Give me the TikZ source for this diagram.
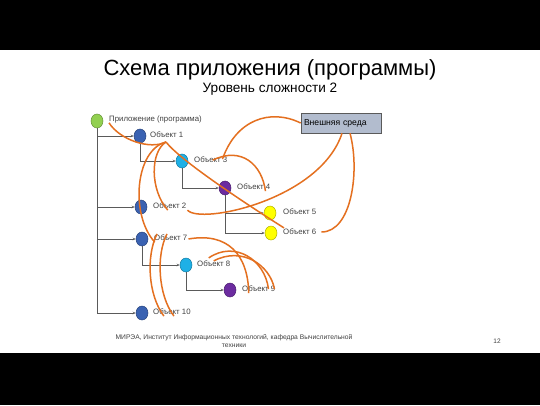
\documentclass[tikz,border=0pt]{standalone}
\usepackage{fontspec}
\setmainfont{Liberation Sans}
\usepackage{tikz}
\usetikzlibrary{shapes.geometric,arrows.meta}

\definecolor{curveor}{RGB}{228,112,32}
\definecolor{treegray}{RGB}{90,90,90}
\definecolor{labgray}{RGB}{64,64,64}
\definecolor{envfill}{RGB}{178,188,206}
\definecolor{objblue}{RGB}{58,98,178}
\definecolor{objcyan}{RGB}{30,176,230}
\definecolor{objpurple}{RGB}{108,44,160}
\definecolor{objyellow}{RGB}{255,255,0}
\definecolor{objgreen}{RGB}{146,208,80}

\begin{document}
\begin{tikzpicture}[x=1pt,y=-1pt,
  obj/.style={ellipse,draw=#1!70!black,fill=#1,line width=0.5pt,minimum width=12pt,minimum height=14pt,inner sep=0pt},
  lab/.style={anchor=west,inner sep=1pt,text=labgray,font=\fontsize{7.8}{9}\selectfont},
  tree/.style={draw=treegray,line width=0.6pt,-{Stealth[length=3pt,width=2.5pt]}},
  link/.style={draw=curveor,line width=1.5pt}]

% slide frame
\fill[black] (0,0) rectangle (540,405);
\fill[white] (0,50) rectangle (540,353);
\useasboundingbox (0,0) rectangle (540,405);

\node (title) at (270,70) {\fontsize{22}{25}\selectfont Схема приложения (программы)};
\node (subtitle) at (270,89) {\fontsize{13.6}{15}\selectfont Уровень сложности 2};

% objects
\node[obj=objgreen]  (app)  at (97,121) {};
\node[obj=objblue]   (ob1)  at (140,136) {};
\node[obj=objcyan]   (ob3)  at (182,161) {};
\node[obj=objpurple] (ob4)  at (225,188) {};
\node[obj=objyellow] (ob5)  at (270,213) {};
\node[obj=objyellow] (ob6)  at (271,233) {};
\node[obj=objblue]   (ob2)  at (141,207) {};
\node[obj=objblue]   (ob7)  at (142,239) {};
\node[obj=objcyan]   (ob8)  at (186,265) {};
\node[obj=objpurple] (ob9)  at (230,290) {};
\node[obj=objblue]   (ob10) at (142,313) {};

\node[lab] (lapp) at (108,119) {Приложение (программа)};
\node[lab] (l1)  at (149,135) {Объект 1};
\node[lab] (l3)  at (193,160) {Объект 3};
\node[lab] (l4)  at (236,187) {Объект 4};
\node[lab] (l5)  at (282,212) {Объект 5};
\node[lab] (l6)  at (282,232) {Объект 6};
\node[lab] (l2)  at (152,206) {Объект 2};
\node[lab] (l7)  at (153,238) {Объект 7};
\node[lab] (l8)  at (196,264) {Объект 8};
\node[lab] (l9)  at (241,289) {Объект 9};
\node[lab] (l10) at (152,312) {Объект 10};

\node[draw=treegray,fill=envfill,line width=0.7pt,minimum width=80pt,minimum height=20pt,
  text width=74pt,align=left,inner sep=3pt,font=\fontsize{8.6}{10}\selectfont] (env) at (341,123) {Внешняя среда};

% hierarchy
\draw[tree] (app.south) |- (ob10.west);
\draw[tree] (app.south |- ob1.west) -- (ob1.west);
\draw[tree] (app.south |- ob2.west) -- (ob2.west);
\draw[tree] (app.south |- ob7.west) -- (ob7.west);
\draw[tree] (ob1.south) |- (ob3.west);
\draw[tree] (ob3.south) |- (ob4.west);
\draw[tree] (ob4.south) |- (ob5.west);
\draw[tree] (ob4.south) |- (ob6.west);
\draw[tree] (ob7.south) |- (ob8.west);
\draw[tree] (ob8.south) |- (ob9.west);

% links
\coordinate (c1) at (166,142);
\draw[link] ([xshift=1pt,yshift=1pt]lapp.south west) .. controls (120,140) and (150,150) .. (c1);
\draw[link] (c1) .. controls (135,150) and (130,215) .. ([xshift=-16pt]l7.south);
\draw[link] (c1) .. controls (150,152) and (150,190) .. ([xshift=-2pt]l2.south);
\draw[link] (c1) .. controls (180,160) and (240,200) .. ([xshift=2pt]l6.north west);
\draw[link] (env.west) .. controls (270,108) and (236,120) .. ([xshift=-6pt,yshift=5pt]l3.south east);
\draw[link] ([xshift=2pt,yshift=4pt]l3.south) .. controls (242,146) and (262,165) .. ([xshift=-6pt]l4.south east);
\draw[link] (l2.south east) .. controls (200,225) and (320,200) .. ([xshift=1pt]env.south);
\draw[link] ([xshift=9pt]env.south) .. controls (360,170) and (352,232) .. ([xshift=4pt]l6.east);
\draw[link] ([yshift=-1pt]l7.east) .. controls (228,232) and (248,255) .. ([xshift=-10pt]l9.south);
\draw[link] ([xshift=-5pt,yshift=2pt]l8.north) .. controls (235,240) and (265,260) .. ([xshift=-8pt]l9.east);
\draw[link] ([xshift=0pt,yshift=-1pt]l8.north) .. controls (242,246) and (270,265) .. ([xshift=-2pt]l9.east);
\draw[link] ([xshift=-8pt]l10.south) .. controls (148,295) and (146,256) .. ([xshift=4pt]l7.north west);
\draw[link] ([xshift=2pt]l10.south) .. controls (158,295) and (156,255) .. ([xshift=14pt]l7.north west);

% footer
\node[align=center,text=labgray,font=\fontsize{6.7}{8}\selectfont] (foot) at (234,341)
  {МИРЭА, Институт Информационных технологий, кафедра Вычислительной\\техники};
\node[text=labgray,font=\fontsize{6.5}{7}\selectfont] (page) at (497,341) {12};
\end{tikzpicture}
\end{document}
